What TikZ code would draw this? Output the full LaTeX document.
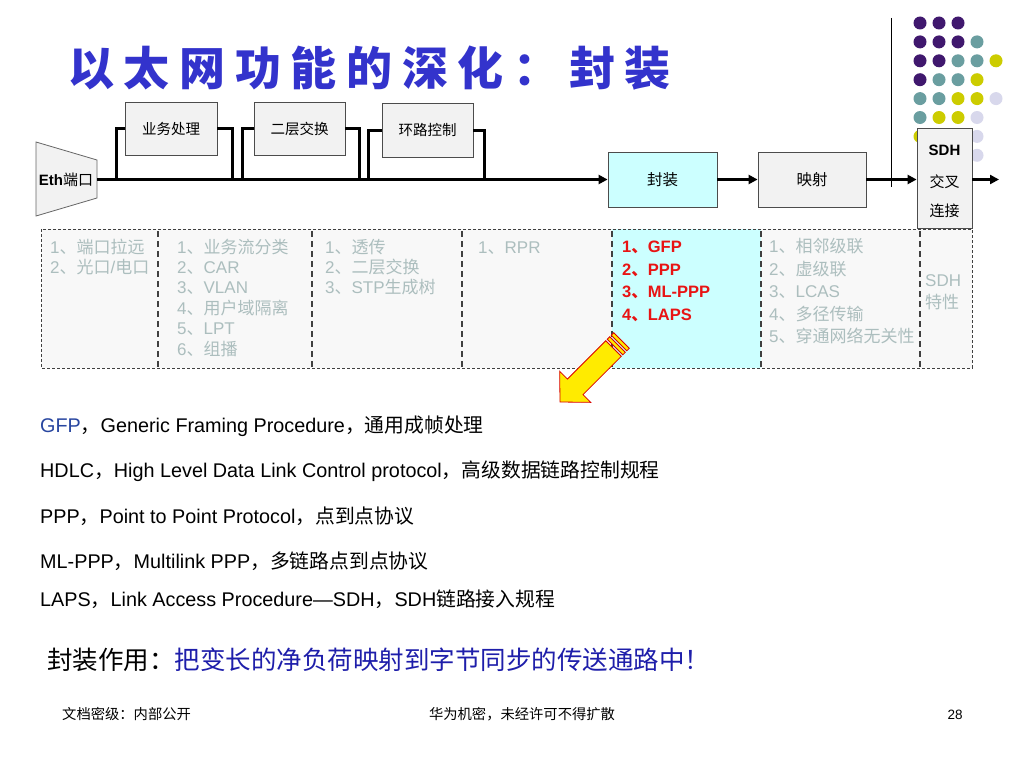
\documentclass[tikz,border=0pt]{standalone}
\usepackage{fontspec}
\usepackage{graphicx}
\setmainfont{Liberation Sans}
\newfontfamily\cjk{Noto Sans CJK SC}
\newfontfamily\titlefont[LetterSpace=21]{Noto Sans CJK SC}
\newcommand\zh[1]{{\cjk #1}}
\usetikzlibrary{arrows.meta}
\definecolor{boxgray}{RGB}{242,242,242}
\definecolor{cyanbox}{RGB}{204,255,255}
\definecolor{titleblue}{RGB}{51,51,204}
\definecolor{celltext}{RGB}{172,190,190}
\definecolor{redtext}{RGB}{232,20,20}
\definecolor{dotP}{RGB}{64,24,110}
\definecolor{dotT}{RGB}{106,158,160}
\definecolor{dotY}{RGB}{204,204,0}
\definecolor{dotL}{RGB}{216,216,236}
\definecolor{tablebg}{RGB}{248,248,248}
\definecolor{gfpblue}{RGB}{40,70,160}
\definecolor{darkblue}{RGB}{30,30,170}
\definecolor{arrowyellow}{RGB}{255,235,0}
\tikzset{
  procbox/.style={draw=black!70, line width=0.8pt, fill=boxgray, inner sep=0pt,
    font=\cjk\fontsize{14.5}{14.5}\selectfont},
  mainline/.style={line width=3pt, black},
  flowarrow/.style={line width=3pt, black, -{Triangle[length=9pt,width=9pt]}},
  cell/.style={anchor=base west, inner sep=0pt, text=celltext,
    font=\fontsize{17}{17}\selectfont},
  redcell/.style={anchor=base west, inner sep=0pt, text=redtext,
    font=\bfseries\fontsize{16.5}{16.5}\selectfont},
  divider/.style={line width=2pt, black!75, dash pattern=on 6pt off 4pt},
  outerdash/.style={line width=1pt, black!75, dash pattern=on 3pt off 2pt},
  bodytext/.style={anchor=base west, inner sep=0pt, font=\fontsize{19.8}{19.8}\selectfont},
  foot/.style={anchor=base, inner sep=0pt, font=\cjk\fontsize{14.3}{14.3}\selectfont},
  sdhlabel/.style={inner sep=0pt, font=\fontsize{15}{15}\selectfont},
  arrowpart/.style={fill=arrowyellow, draw=red!85!black, line width=0.8pt, line join=miter}
}
\begin{document}
\begin{tikzpicture}[x=1pt,y=-1pt]
\useasboundingbox[fill=white] (0,0) rectangle (1024,768);

% title
\node[anchor=west, inner sep=0pt, text=titleblue,
  font=\titlefont\bfseries\fontsize{46}{46}\selectfont] (title) at (68,68) {以太网功能的深化：封装};

% decorative dots
\foreach \c/\r/\k in {1/1/dotP,2/1/dotP,3/1/dotP,
  1/2/dotP,2/2/dotP,3/2/dotP,4/2/dotT,
  1/3/dotP,2/3/dotP,3/3/dotT,4/3/dotT,5/3/dotY,
  1/4/dotP,2/4/dotT,3/4/dotT,4/4/dotY,
  1/5/dotT,2/5/dotT,3/5/dotY,4/5/dotY,5/5/dotL,
  1/6/dotT,2/6/dotY,3/6/dotY,4/6/dotL,
  1/7/dotY,2/7/dotY,3/7/dotL,4/7/dotL,
  2/8/dotL,3/8/dotL,4/8/dotL}
  \fill[\k] (901+19*\c, 4.1+18.9*\r) circle (6.5);

% vertical rule
\coordinate (vtop) at (891,18);
\coordinate (vbot) at (891,187);
\draw[line width=1pt] (vtop) -- (vbot);

% Eth port
\fill[boxgray] (36,142) -- (97,160) -- (97,198) -- (36,216) -- cycle;
\draw[black!60, line width=0.8pt] (36,142) -- (97,160) -- (97,198) -- (36,216) -- cycle;
\node[inner sep=0pt, font=\fontsize{15}{15}\selectfont] (eth) at (66,180) {\textbf{Eth}\zh{端口}};
\coordinate (ethR) at (97,179.5);

% processing boxes
\node[procbox, minimum width=92pt, minimum height=53pt] (b1) at (171,128.5) {业务处理};
\node[procbox, minimum width=91pt, minimum height=53pt] (b2) at (299.5,128.5) {二层交换};
\node[procbox, minimum width=91pt, minimum height=54pt] (b3) at (427.5,130) {环路控制};
\node[procbox, fill=cyanbox, minimum width=109pt, minimum height=55pt,
  font=\cjk\fontsize{15.5}{15.5}\selectfont] (fz) at (662.5,179.5) {封装};
\node[procbox, minimum width=108pt, minimum height=55pt,
  font=\cjk\fontsize{15.5}{15.5}\selectfont] (ys) at (812,179.5) {映射};
\node[procbox, minimum width=55pt, minimum height=100pt] (sdh) at (944.5,178) {};
\node[sdhlabel] (sdh1) at (944.5,150) {\textbf{SDH}};
\node[sdhlabel, font=\cjk\fontsize{15}{15}\selectfont] (sdh2) at (944.5,182) {交叉};
\node[sdhlabel, font=\cjk\fontsize{15}{15}\selectfont] (sdh3) at (944.5,211) {连接};
\coordinate (out) at (999,179.5);

% main line and bypass loops
\draw[flowarrow] (ethR) -- (fz.west);
\coordinate (l1a) at (116,179.5); \coordinate (l1b) at (232,179.5);
\coordinate (l2a) at (242,179.5); \coordinate (l2b) at (359,179.5);
\coordinate (l3a) at (368,179.5); \coordinate (l3b) at (484,179.5);
\draw[mainline, line join=miter] (l1a) |- (b1.west);
\draw[mainline, line join=miter] (b1.east) -| (l1b);
\draw[mainline, line join=miter] (l2a) |- (b2.west);
\draw[mainline, line join=miter] (b2.east) -| (l2b);
\draw[mainline, line join=miter] (l3a) |- (b3.west);
\draw[mainline, line join=miter] (b3.east) -| (l3b);
\draw[flowarrow] (fz.east) -- (ys.west);
\draw[flowarrow] (ys.east) -- (ys.east -| sdh.west);
\draw[flowarrow] (sdh.east |- out) -- (out);

% table
\fill[tablebg] (41,229) rectangle (972,368);
\fill[cyanbox] (612,229) rectangle (761,368);
\draw[outerdash] (41,229) rectangle (972,368);
\foreach \xx in {158,312,462,612,761,920}
  \draw[divider] (\xx,231) -- (\xx,367);

% cell texts
\foreach \t [count=\i] in {1\zh{、端口拉远},2\zh{、光口}/\zh{电口}}
  \node[cell] (ca\i) at (50,253+20.4*\i-20.4) {\t};
\foreach \t [count=\i] in {1\zh{、业务流分类},2\zh{、}CAR,3\zh{、}VLAN,4\zh{、用户域隔离},5\zh{、}LPT,6\zh{、组播}}
  \node[cell] (cb\i) at (177,253+20.4*\i-20.4) {\t};
\foreach \t [count=\i] in {1\zh{、透传},2\zh{、二层交换},3\zh{、}STP\zh{生成树}}
  \node[cell] (cc\i) at (325,253+20.4*\i-20.4) {\t};
\node[cell] (cd1) at (478,253) {1\zh{、}RPR};
\foreach \t [count=\i] in {1\zh{\bfseries 、}GFP,2\zh{\bfseries 、}PPP,3\zh{\bfseries 、}ML-PPP,4\zh{\bfseries 、}LAPS}
  \node[redcell] (ce\i) at (622,252.5+22.5*\i-22.5) {\t};
\foreach \t [count=\i] in {1\zh{、相邻级联},2\zh{、虚级联},3\zh{、}LCAS,4\zh{、多径传输},5\zh{、穿通网络无关性}}
  \node[cell] (cf\i) at (769,252.5+22.5*\i-22.5) {\t};
\node[cell] (cg1) at (925,286) {SDH};
\node[cell] (cg2) at (925,308) {\zh{特性}};

% yellow arrow
\begin{scope}[shift={(560,402)}, x={(0.7071pt,0.7071pt)}, y={(0.7071pt,-0.7071pt)}]
  \draw[arrowpart]
    (0,0) -- (21.5,22) -- (21.5,11) -- (75.7,11) -- (75.7,-11) -- (21.5,-11) -- (21.5,-22) -- cycle;
  \draw[arrowpart] (77.8,-11) -- (81.3,-11) -- (81.3,11) -- (77.8,11) -- cycle;
  \draw[arrowpart] (83.4,-11) -- (87,-11) -- (87,11) -- (83.4,11) -- cycle;
\end{scope}

% explanation lines
\node[bodytext] (t1) at (40,432) {\textcolor{gfpblue}{GFP}\zh{，}Generic Framing Procedure\zh{，通用成帧处理}};
\node[bodytext] (t2) at (40,477) {HDLC\zh{，}High Level Data Link Control protocol\zh{，高级数据链路控制规程}};
\node[bodytext] (t3) at (40,523) {PPP\zh{，}Point to Point Protocol\zh{，点到点协议}};
\node[bodytext] (t4) at (40,568) {ML-PPP\zh{，}Multilink PPP\zh{，多链路点到点协议}};
\node[bodytext] (t5) at (40,606) {LAPS\zh{，}Link Access Procedure—SDH\zh{，}SDH\zh{链路接入规程}};
\node[anchor=base west, inner sep=0pt, font=\cjk\fontsize{25.5}{25.5}\selectfont] (t6) at (47,669)
  {封装作用：\textcolor{darkblue}{把变长的净负荷映射到字节同步的传送通路中！}};

% footer
\node[foot, anchor=base west] (f1) at (62,719) {文档密级：内部公开};
\node[foot] (f2) at (522,719) {华为机密，未经许可不得扩散};
\node[foot, font=\fontsize{13.5}{13.5}\selectfont] (f3) at (955,719) {28};
\end{tikzpicture}
\end{document}
